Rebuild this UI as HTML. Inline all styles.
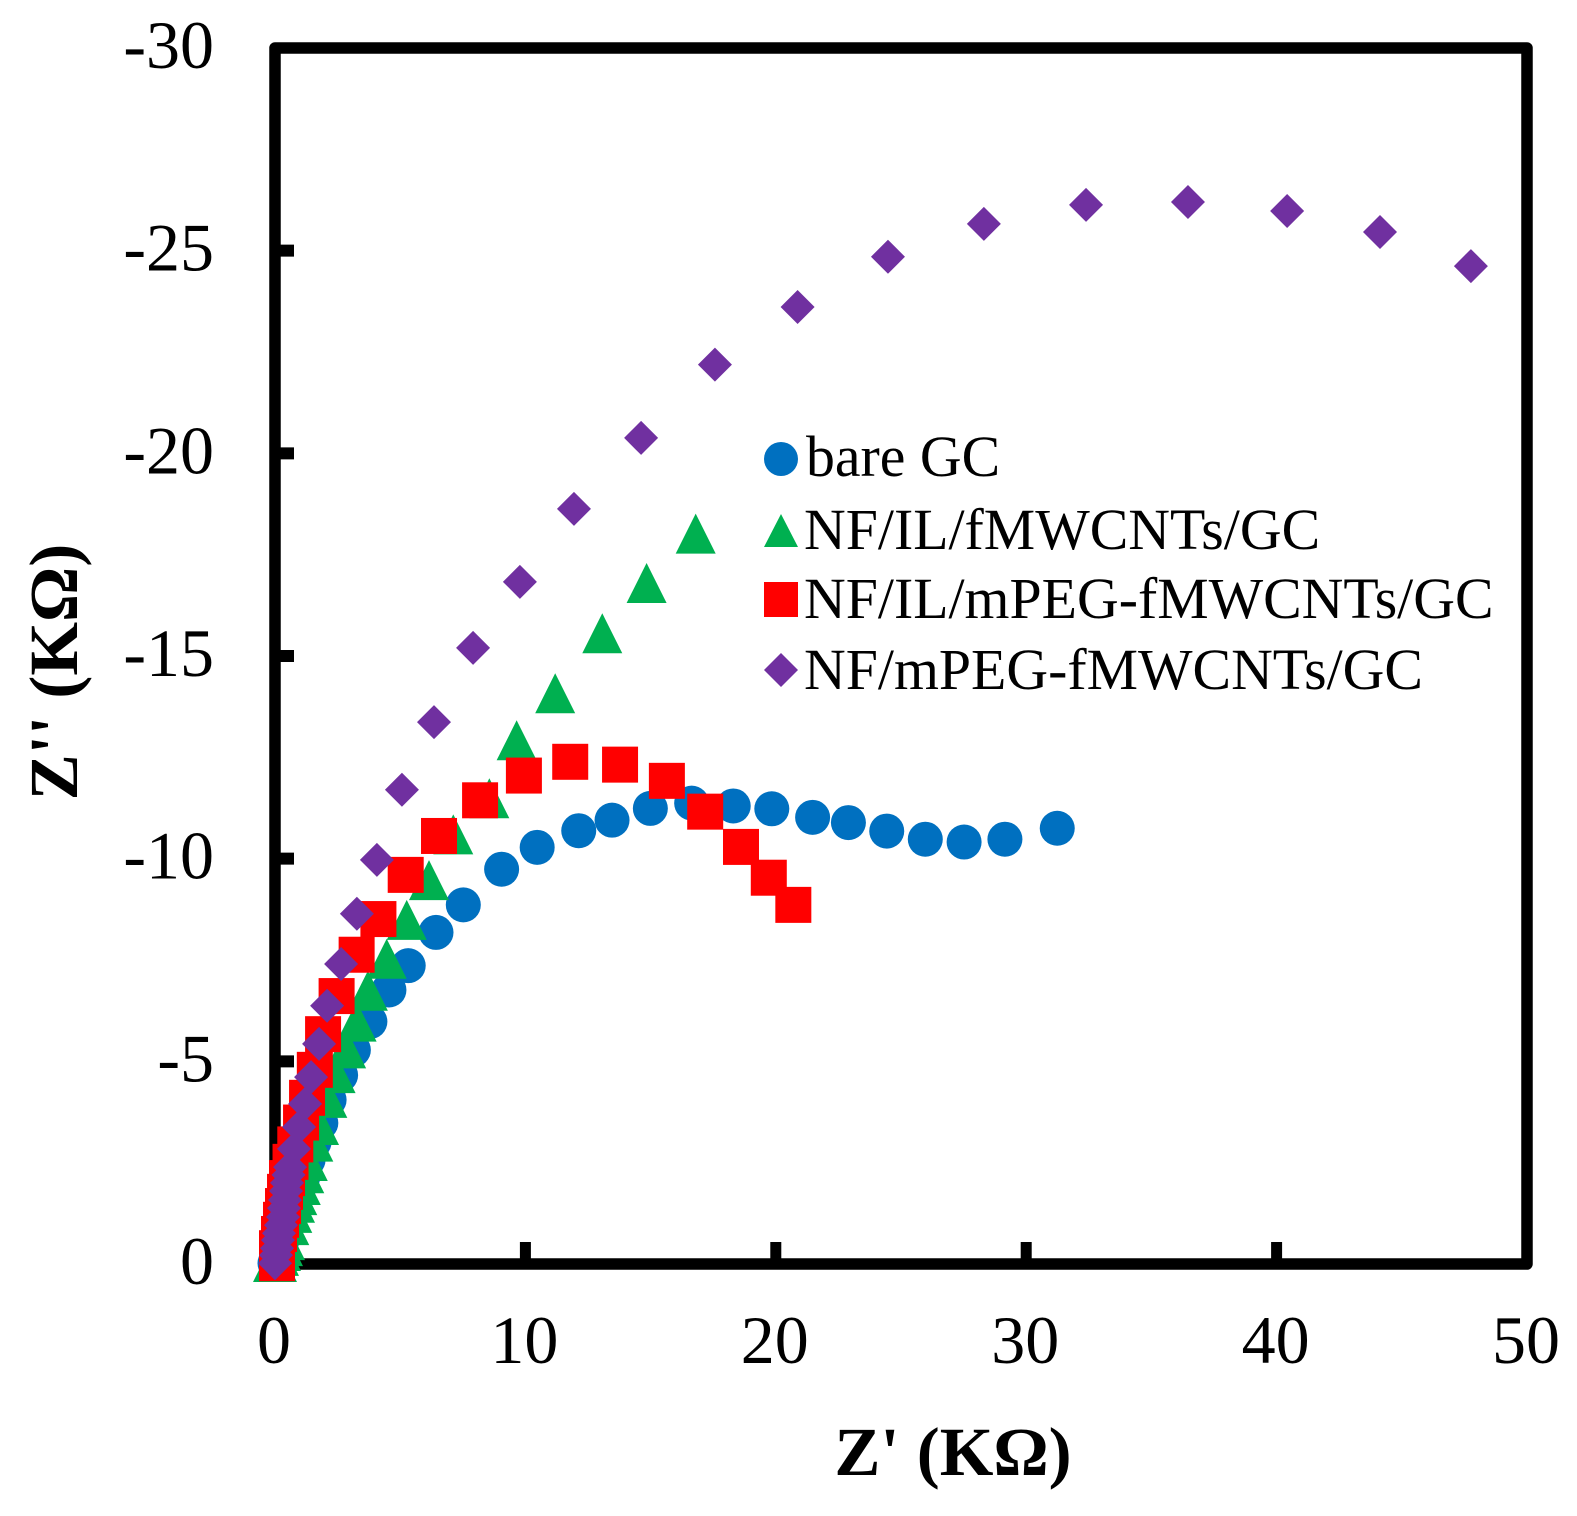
<!DOCTYPE html>
<html lang="en">
<head>
<meta charset="utf-8">
<title>Nyquist plot</title>
<style>
html,body{margin:0;padding:0;background:#fff;}
svg{display:block;}
text{font-family:"Liberation Serif",serif;fill:#000;}
.tick{font-size:68px;}
.axis-title{font-size:69px;font-weight:bold;}
.legend-text{font-size:57.8px;}
</style>
</head>
<body>
<svg id="chart" xmlns="http://www.w3.org/2000/svg" width="1577" height="1516" viewBox="0 0 1577 1516">
  <rect x="0" y="0" width="1577" height="1516" fill="#fff"/>
  <g id="ticks"></g>
  <rect x="275" y="48" width="1252" height="1216" fill="none" stroke="#000" stroke-width="11.5" stroke-linejoin="round"/>
  <g id="marks"></g>
  <text class="axis-title" x="953" y="1475" text-anchor="middle">Z' (KΩ)</text>
  <text class="axis-title" x="77" y="672" text-anchor="middle" transform="rotate(-90 77 672)">Z'' (KΩ)</text>
  <g>
    <circle cx="781" cy="459" r="17" fill="#0070C0"/>
    <text class="legend-text" x="806" y="476">bare GC</text>
    <polygon points="781,514 798,547 764,547" fill="#00B050"/>
    <text class="legend-text" x="804" y="549">NF/IL/fMWCNTs/GC</text>
    <rect x="764" y="582" width="34" height="35" fill="#FF0000"/>
    <text class="legend-text" x="804" y="618">NF/IL/mPEG-fMWCNTs/GC</text>
    <polygon points="781,653 798,670 781,687 764,670" fill="#7030A0"/>
    <text class="legend-text" x="804" y="689">NF/mPEG-fMWCNTs/GC</text>
  </g>
</svg>
<script>
const xTickValues = [0, 10, 20, 30, 40, 50];
const yTickValues = [0, -5, -10, -15, -20, -25, -30];

const bareGcX = [31.24, 29.15, 27.52, 25.97, 24.43, 22.90, 21.47, 19.84, 18.30, 16.64, 14.99, 13.46, 12.13, 10.47, 9.05, 7.52, 6.43, 5.32, 4.55, 3.79, 3.13, 2.62, 2.16, 1.83, 1.56, 1.32, 1.12, 0.92, 0.76, 0.60, 0.44, 0.28, 0.12, 0.00];
const bareGcY = [-10.75, -10.48, -10.41, -10.48, -10.68, -10.89, -11.02, -11.23, -11.30, -11.37, -11.24, -10.95, -10.69, -10.28, -9.74, -8.86, -8.18, -7.36, -6.76, -5.98, -5.28, -4.66, -4.05, -3.48, -3.01, -2.57, -2.17, -1.83, -1.51, -1.21, -0.91, -0.59, -0.30, -0.02];

const ilFmwcntsX = [16.80, 14.84, 13.07, 11.19, 9.65, 8.56, 7.12, 6.15, 5.26, 4.46, 3.71, 3.26, 2.84, 2.42, 2.09, 1.76, 1.53, 1.31, 1.17, 1.03, 0.89, 0.80, 0.69, 0.57, 0.40, 0.32, 0.24, 0.16, 0.08, -0.08];
const ilFmwcntsY = [-18.02, -16.80, -15.56, -14.08, -12.92, -11.49, -10.60, -9.47, -8.49, -7.53, -6.74, -5.98, -5.32, -4.71, -4.10, -3.43, -3.02, -2.54, -2.24, -1.95, -1.70, -1.51, -1.26, -0.96, -0.59, -0.44, -0.32, -0.20, -0.05, -0.05];

const ilMpegX = [20.70, 19.72, 18.61, 17.18, 15.65, 13.78, 11.79, 9.94, 8.19, 6.55, 5.22, 4.13, 3.26, 2.46, 1.92, 1.59, 1.28, 1.04, 0.81, 0.62, 0.48, 0.40, 0.32, 0.24, 0.16, 0.08, 0.08];
const ilMpegY = [-8.86, -9.53, -10.29, -11.16, -11.92, -12.32, -12.39, -12.05, -11.44, -10.56, -9.60, -8.51, -7.63, -6.61, -5.67, -4.79, -4.10, -3.49, -2.95, -2.52, -2.12, -1.78, -1.43, -1.09, -0.74, -0.39, -0.02];

const mpegX = [47.76, 44.13, 40.42, 36.46, 32.39, 28.31, 24.48, 20.87, 17.57, 14.62, 11.94, 9.78, 7.91, 6.35, 5.07, 4.07, 3.27, 2.64, 2.08, 1.76, 1.44, 1.20, 0.96, 0.76, 0.60, 0.54, 0.48, 0.44, 0.40, 0.36, 0.32, 0.24, 0.16, 0.12, 0.08, 0.04, 0.00];
const mpegY = [-24.62, -25.46, -25.98, -26.20, -26.13, -25.66, -24.85, -23.61, -22.19, -20.38, -18.63, -16.83, -15.20, -13.37, -11.70, -9.97, -8.64, -7.40, -6.37, -5.43, -4.61, -3.95, -3.38, -2.84, -2.39, -2.20, -2.00, -1.80, -1.58, -1.38, -1.16, -0.96, -0.76, -0.59, -0.39, -0.22, -0.02];

const NS = 'http://www.w3.org/2000/svg';
const plotLeft = 275, plotRight = 1527, plotTop = 48, plotBottom = 1264;
const xMin = 0, xMax = 50, yMin = 0, yMax = -30;

function xScale(v) { return plotLeft + (v - xMin) / (xMax - xMin) * (plotRight - plotLeft); }
function yScale(v) { return plotBottom - (v - yMin) / (yMax - yMin) * (plotBottom - plotTop); }

const tickGroup = document.getElementById('ticks');
const markGroup = document.getElementById('marks');

xTickValues.forEach(function (v) {
  if (v !== xMin && v !== xMax) {
    const t = document.createElementNS(NS, 'line');
    t.setAttribute('x1', xScale(v));
    t.setAttribute('x2', xScale(v));
    t.setAttribute('y1', plotBottom);
    t.setAttribute('y2', plotBottom - 22);
    t.setAttribute('stroke', '#000');
    t.setAttribute('stroke-width', 11);
    
    
    tickGroup.appendChild(t);
  }
  const l = document.createElementNS(NS, 'text');
  l.setAttribute('class', 'tick');
  l.setAttribute('x', xScale(v) - 1);
  l.setAttribute('y', 1363);
  l.setAttribute('text-anchor', 'middle');
  l.textContent = String(v);
  
  
  tickGroup.appendChild(l);
});

yTickValues.forEach(function (v) {
  if (v !== yMin && v !== yMax) {
    const t = document.createElementNS(NS, 'line');
    t.setAttribute('x1', plotLeft);
    t.setAttribute('x2', plotLeft + 19);
    t.setAttribute('y1', yScale(v));
    t.setAttribute('y2', yScale(v));
    t.setAttribute('stroke', '#000');
    t.setAttribute('stroke-width', 12);
    
    
    tickGroup.appendChild(t);
  }
  const l = document.createElementNS(NS, 'text');
  l.setAttribute('class', 'tick');
  l.setAttribute('x', 214);
  l.setAttribute('y', yScale(v) + 20);
  l.setAttribute('text-anchor', 'end');
  l.textContent = String(v);
  
  
  tickGroup.appendChild(l);
});

function drawCircles(xs, ys) {
  xs.forEach(function (x, i) {
    const m = document.createElementNS(NS, 'circle');
    m.setAttribute('cx', xScale(x));
    m.setAttribute('cy', yScale(ys[i]));
    m.setAttribute('r', 17.5);
    m.setAttribute('fill', '#0070C0');
    
    
    markGroup.appendChild(m);
  });
}
function drawTriangles(xs, ys) {
  xs.forEach(function (x, i) {
    const cx = xScale(x), cy = yScale(ys[i]);
    const m = document.createElementNS(NS, 'polygon');
    m.setAttribute('points', cx + ',' + (cy - 20) + ' ' + (cx + 20) + ',' + (cy + 20) + ' ' + (cx - 20) + ',' + (cy + 20));
    m.setAttribute('fill', '#00B050');
    
    
    markGroup.appendChild(m);
  });
}
function drawSquares(xs, ys) {
  xs.forEach(function (x, i) {
    const m = document.createElementNS(NS, 'rect');
    m.setAttribute('x', xScale(x) - 18);
    m.setAttribute('y', yScale(ys[i]) - 18);
    m.setAttribute('width', 36);
    m.setAttribute('height', 36);
    m.setAttribute('fill', '#FF0000');
    
    
    markGroup.appendChild(m);
  });
}
function drawDiamonds(xs, ys) {
  xs.forEach(function (x, i) {
    const cx = xScale(x), cy = yScale(ys[i]);
    const m = document.createElementNS(NS, 'polygon');
    m.setAttribute('points', cx + ',' + (cy - 17) + ' ' + (cx + 17) + ',' + cy + ' ' + cx + ',' + (cy + 17) + ' ' + (cx - 17) + ',' + cy);
    m.setAttribute('fill', '#7030A0');
    
    
    markGroup.appendChild(m);
  });
}

drawCircles(bareGcX, bareGcY);
drawTriangles(ilFmwcntsX, ilFmwcntsY);
drawSquares(ilMpegX, ilMpegY);
drawDiamonds(mpegX, mpegY);
</script>
</body>
</html>
